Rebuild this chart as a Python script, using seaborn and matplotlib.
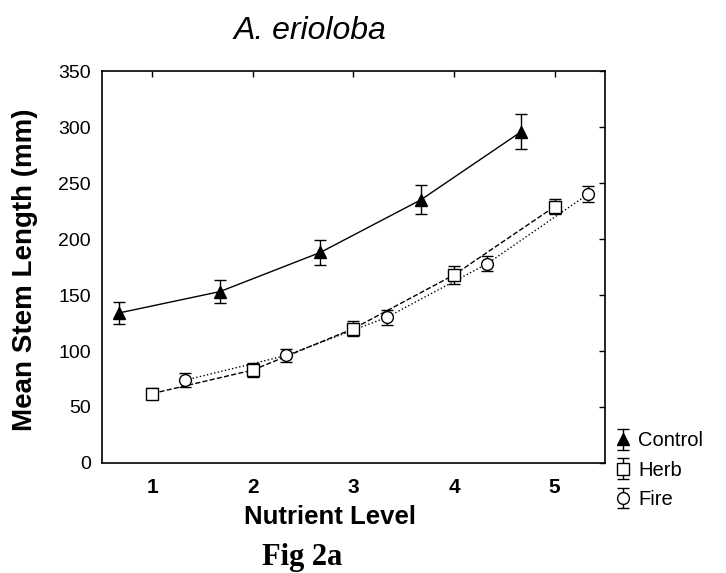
import matplotlib
matplotlib.use("Agg")
import matplotlib.pyplot as plt
import seaborn as sns
import pandas as pd

# Data
levels = [1, 2, 3, 4, 5]
offsets = {"Control": -0.33, "Herb": 0.0, "Fire": 0.33}
control_mean = [134, 153, 188, 235, 296]
control_err = [10, 10, 11, 13, 16]
herb_mean = [62, 83, 120, 168, 229]
herb_err = [5, 6, 7, 8, 7]
fire_mean = [74, 96, 130, 178, 240]
fire_err = [6, 6, 7, 7, 7]
xtick_labels = ["1", "2", "3", "4", "5"]
ytick_vals = [0, 50, 100, 150, 200, 250, 300, 350]

sns.set_style("white")
plt.rcParams["font.family"] = ["Liberation Sans", "DejaVu Sans"]
plt.rcParams["text.color"] = "black"
plt.rcParams["axes.labelcolor"] = "black"
plt.rcParams["xtick.color"] = "black"
plt.rcParams["ytick.color"] = "black"

fig = plt.figure(figsize=(7.26, 5.73), dpi=100)
ax = fig.add_axes([0.1405, 0.192, 0.6928, 0.684])

series = [
    ("Control", control_mean, control_err, "-", "^", "black"),
    ("Herb", herb_mean, herb_err, "--", "s", "white"),
    ("Fire", fire_mean, fire_err, ":", "o", "white"),
]

for name, m, e, ls, mk, fc in series:
    xs = [l + offsets[name] for l in levels]
    df = pd.DataFrame({"x": xs, "y": m})
    sns.lineplot(data=df, x="x", y="y", ax=ax, color="black", linestyle=ls,
                 linewidth=1.0, legend=False)
    ax.errorbar(xs, m, yerr=e, fmt=mk, color="black", mfc=fc, mec="black",
                ms=8.5, capsize=4, elinewidth=1.0, capthick=1.0,
                label=name, zorder=3)

ax.set_xlim(0.5, 5.5)
ax.set_ylim(0, 350)
ax.set_xticks(levels)
ax.set_xticklabels(xtick_labels, fontsize=15, fontweight="bold")
ax.set_yticks(ytick_vals)
ax.set_yticklabels([str(v) for v in ytick_vals], fontsize=14)
ax.tick_params(direction="in", top=True, right=True, length=4, width=1,
               colors="black")
ax.tick_params(axis="x", pad=11)
ax.tick_params(axis="y", pad=8)
for sp in ax.spines.values():
    sp.set_visible(True)
    sp.set_color("black")
    sp.set_linewidth(1.2)

ax.set_xlabel("Nutrient Level", fontsize=18.5, fontweight="bold", color="black")
ax.xaxis.set_label_coords(0.453, -0.138)
ax.xaxis.label.set_va("center")
ax.set_ylabel("Mean Stem Length (mm)", fontsize=20, fontweight="bold", color="black")
ax.yaxis.set_label_coords(-0.153, 0.492)
ax.yaxis.label.set_va("center")

fig.text(0.427, 0.932, "A. erioloba", fontsize=23, fontstyle="italic",
         ha="center", va="baseline", color="black")

leg = ax.legend(loc="lower left", bbox_to_anchor=(1.0, -0.137), frameon=False,
                fontsize=14.5, handlelength=1.0, handletextpad=0.25,
                labelspacing=0.5, borderaxespad=0)
for t in leg.get_texts():
    t.set_color("black")

fig.text(0.416, 0.014, "Fig 2a", fontsize=22, fontweight="bold",
         family=["Liberation Serif", "DejaVu Serif"], ha="center", va="baseline",
         color="black")

fig.savefig("out.png", dpi=100)
